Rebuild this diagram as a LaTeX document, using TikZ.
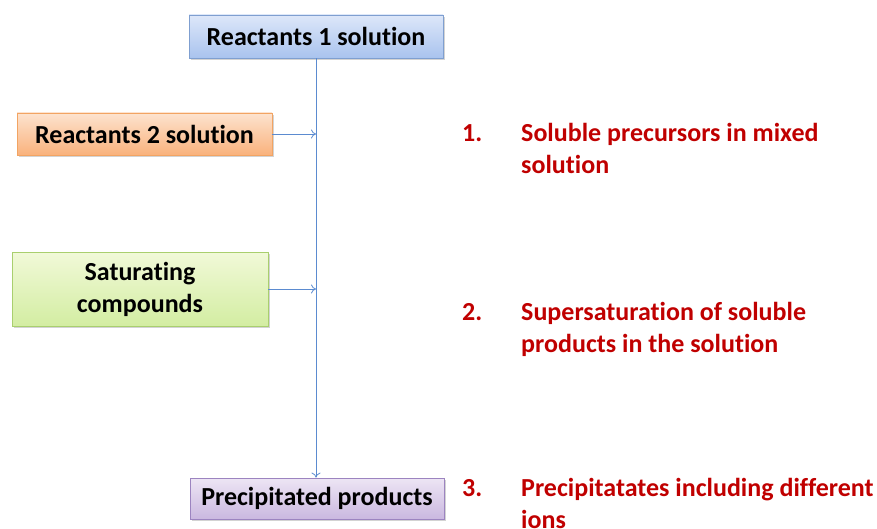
\documentclass[tikz,border=0pt]{standalone}
\usepackage{fontspec}
\setmainfont{Carlito}[Ligatures={NoCommon}]
\usetikzlibrary{arrows.meta,shadows}
\definecolor{redtxt}{HTML}{C00000}
\definecolor{linec}{HTML}{5B8BD0}
\definecolor{bluebd}{HTML}{7F9FD0}
\definecolor{bluetop}{HTML}{DDE7F9}
\definecolor{bluebot}{HTML}{A9C3EE}
\definecolor{orbd}{HTML}{F2A463}
\definecolor{ortop}{HTML}{FDE3CF}
\definecolor{orbot}{HTML}{F9B27C}
\definecolor{grbd}{HTML}{A9CF6E}
\definecolor{grtop}{HTML}{F1F9D8}
\definecolor{grbot}{HTML}{D3EDA2}
\definecolor{pubd}{HTML}{9C84C0}
\definecolor{putop}{HTML}{EDE5F4}
\definecolor{pubot}{HTML}{CAB8E0}
\tikzset{
  box/.style={draw, line width=0.8pt, font=\fontsize{26}{32}\selectfont\bfseries, align=center, inner sep=0pt,
     drop shadow={shadow xshift=1.5pt, shadow yshift=-2pt, opacity=0.35}},
  bluebox/.style={box, draw=bluebd, top color=bluetop, bottom color=bluebot},
  orangebox/.style={box, draw=orbd, top color=ortop, bottom color=orbot},
  greenbox/.style={box, draw=grbd, top color=grtop, bottom color=grbot},
  purplebox/.style={box, draw=pubd, top color=putop, bottom color=pubot},
  conn/.style={draw=linec, line width=0.8pt, -{To[length=5pt,width=9pt]}},
  redt/.style={text=redtxt, font=\fontsize{26}{32}\selectfont\bfseries, anchor=base west, inner sep=0pt, align=left}
}
\begin{document}
\begin{tikzpicture}[x=1pt,y=-1pt]
\useasboundingbox (0,0) rectangle (877,529);
\node[bluebox, minimum width=254pt, minimum height=43pt] (r1) at (316,36.5) {Reactants 1 solution};
\node[orangebox, minimum width=255pt, minimum height=42pt] (r2) at (144.5,134) {Reactants 2 solution};
\node[greenbox, minimum width=256pt, minimum height=74pt] (sat) at (140,289) {Saturating\\compounds};
\node[purplebox, minimum width=254pt, minimum height=41pt] (pp) at (317,498.5) {Precipitated products};
\coordinate (j1) at (316,134);
\coordinate (j2) at (316,289);
\draw[conn] (r1.south -| 316,0) -- (pp.north -| 316,0);
\draw[conn] (r2.east) -- (j1);
\draw[conn] (sat.east) -- (j2);
\node[redt] (n1) at (462,142) {1.};
\node[redt] (t1) at (521,174) {Soluble precursors in mixed\\solution};
\node[redt] (n2) at (462,320) {2.};
\node[redt] (t2) at (521,352) {Supersaturation of soluble\\products in the solution};
\node[redt] (n3) at (462,496) {3.};
\node[redt] (t3) at (521,528) {Precipitatates including different\\ions};
\end{tikzpicture}
\end{document}
